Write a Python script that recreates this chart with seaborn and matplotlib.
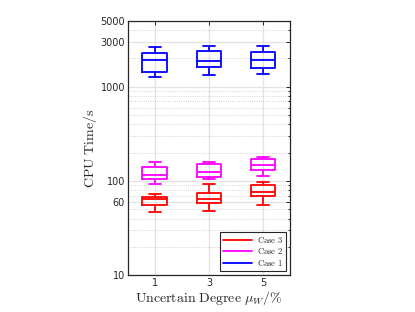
import numpy as np
import pandas as pd
import matplotlib
matplotlib.use("Agg")
import matplotlib.pyplot as plt
import seaborn as sns
from matplotlib.ticker import FixedLocator, LogLocator, NullFormatter
from matplotlib.lines import Line2D

# values: [min, q1, median, q3, max] per box
degrees = [1, 3, 5]
case1 = [[1254, 1440, 1915, 2254, 2650],
         [1337, 1614, 1868, 2365, 2692],
         [1349, 1562, 1899, 2307, 2692]]
case2 = [[93.6, 105.8, 116.7, 139.5, 157.6],
         [106.0, 109.3, 124.5, 150.1, 160.2],
         [113.8, 131.8, 146.4, 169.5, 180.9]]
case3 = [[46.9, 56.1, 63.9, 68.2, 72.2],
         [48.4, 57.9, 64.9, 75.2, 92.9],
         [55.7, 69.3, 77.0, 89.9, 98.3]]
case_names = ["Case 1", "Case 2", "Case 3"]
case_colors = ["#0000ff", "#ff00ff", "#ff0000"]
ytick_vals = [10, 60, 100, 1000, 3000, 5000]

rows = []
for name, boxes in zip(case_names, [case1, case2, case3]):
    for d, vals in zip(degrees, boxes):
        for v in vals:
            rows.append({"degree": d, "time": v, "case": name})
df = pd.DataFrame(rows)

sns.set_style("white")
plt.rcParams["mathtext.fontset"] = "cm"

fig = plt.figure(figsize=(4.15, 3.12), dpi=100)
ax = fig.add_axes([0.308, 0.1176, 0.391, 0.816])
ax.set_yscale("log")

for name, col in zip(case_names, case_colors):
    sns.boxplot(data=df[df["case"] == name], x="degree", y="time",
                native_scale=True, fill=False, color=col, whis=np.inf,
                width=0.46, linewidth=1.3, ax=ax)

ax.set_xlim(0, 6)
ax.set_ylim(10, 5000)
ax.set_xticks(degrees)
ax.set_xticklabels([str(d) for d in degrees], fontsize=7, color="#262626")
ax.yaxis.set_major_locator(FixedLocator(ytick_vals))
ax.set_yticklabels([str(v) for v in ytick_vals], fontsize=7, color="#262626")
ax.yaxis.set_minor_locator(LogLocator(base=10, subs=np.arange(2, 10)))
ax.yaxis.set_minor_formatter(NullFormatter())

ax.grid(True, which="major", color="#e3e3e3", linewidth=0.9)
ax.grid(True, which="minor", axis="y", color="#c8c8c8", linestyle=":", linewidth=0.6)
ax.set_axisbelow(True)
ax.tick_params(which="both", direction="in", top=True, right=True,
               color="#262626", width=0.7, pad=2)
ax.tick_params(which="major", length=3)
ax.tick_params(which="minor", length=1.8)
for s in ax.spines.values():
    s.set_color("#262626")
    s.set_linewidth(0.9)

ax.set_xlabel(r"$\mathrm{Uncertain\ Degree}\ \mu_W/\%$", fontsize=10)
ax.set_ylabel(r"$\mathrm{CPU\ Time/s}$", fontsize=10)
ax.xaxis.set_label_coords(0.5, -0.052)
ax.yaxis.set_label_coords(-0.175, 0.5)

handles = [Line2D([], [], color=c, linewidth=1.3) for c in case_colors[::-1]]
leg = ax.legend(handles, [r"$\mathrm{%s}$" % n.replace(" ", r"\ ") for n in case_names[::-1]],
                loc="lower right", fontsize=6.2, frameon=True, fancybox=False,
                edgecolor="#262626", framealpha=1, handlelength=3.4,
                labelspacing=0.2, borderpad=0.35, handletextpad=0.5,
                borderaxespad=0.5)
leg.get_frame().set_linewidth(0.8)

fig.savefig("out.png", dpi=100)
